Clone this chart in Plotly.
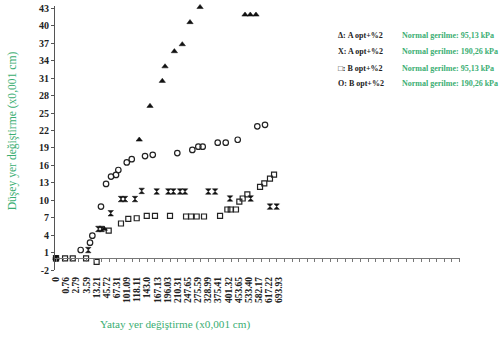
import plotly.graph_objects as go

# Category labels of the horizontal axis (horizontal displacement, x0.001 cm)
x_labels = ["0", "0.76", "2.79", "3.59", "13.21", "45.72", "67.31", "101.09",
            "118.11", "143.0", "167.13", "196.03", "210.31", "247.65", "275.59",
            "328.99", "375.41", "401.32", "453.65", "533.40", "582.17", "617.22",
            "693.93"]
y_ticks = list(range(-2, 44, 3))

# Series positions are given in label-index units along the category axis
# Δ: A opt+%2, normal stress 95,13 kPa
tri_x = [0, 4.76, 8.2, 9.26, 10.47, 10.74, 11.66, 12.44, 13.2, 14.19, 18.62, 19.14, 19.7]
tri_y = [0, 5.06, 20.4, 26.2, 30.5, 33.0, 35.6, 36.8, 40.6, 43.2, 41.9, 41.9, 41.9]

# X: A opt+%2, normal stress 190,26 kPa
hg_x = [0, 3.18, 4.17, 4.5, 5.39, 6.4, 6.8, 7.78, 8.44, 9.92, 11.06, 11.56,
        12.22, 12.71, 15.0, 15.67, 17.14, 19.18, 21.08, 21.74]
hg_y = [0, 1.44, 5.06, 5.06, 7.76, 10.2, 10.2, 10.2, 11.6, 11.5, 11.5, 11.5,
        11.5, 11.5, 11.5, 11.5, 10.3, 10.3, 8.9, 8.9]

# □: B opt+%2, normal stress 95,13 kPa
sq_x = [0, 0.89, 1.65, 2.96, 4.0, 5.19, 6.4, 7.12, 7.95, 8.94, 9.75, 11.23,
        12.81, 13.3, 13.86, 14.58, 16.16, 16.88, 17.21, 17.73, 18.06, 18.39,
        18.85, 20.1, 20.52, 21.08, 21.48]
sq_y = [0, 0, 0, 0, -0.6, 4.76, 6.0, 6.8, 6.9, 7.3, 7.3, 7.3, 7.2, 7.2, 7.2,
        7.2, 7.3, 8.4, 8.4, 8.4, 9.76, 10.3, 11.0, 12.3, 12.9, 13.7, 14.4]

# O: B opt+%2, normal stress 190,26 kPa
ci_x = [0, 2.43, 3.35, 3.58, 4.43, 4.93, 5.42, 5.91, 6.14, 6.97, 7.46, 8.77,
        9.53, 11.95, 13.43, 14.02, 14.45, 15.93, 16.72, 17.9, 19.83, 20.59]
ci_y = [0, 1.44, 2.7, 3.9, 8.9, 12.8, 14.06, 14.35, 15.2, 16.5, 17.05, 17.6,
        17.8, 18.1, 18.65, 19.2, 19.2, 19.9, 19.9, 20.4, 22.7, 22.96]

legend_left = ["Δ: A opt+%2", "X: A opt+%2", "□: B opt+%2", "O: B opt+%2"]
legend_right = ["Normal gerilme: 95,13 kPa", "Normal gerilme: 190,26 kPa",
                "Normal gerilme: 95,13 kPa", "Normal gerilme: 190,26 kPa"]

GREEN = "#3aae72"
SERIF = "Liberation Serif"

fig = go.Figure()
fig.add_trace(go.Scatter(x=sq_x, y=sq_y, mode="markers", cliponaxis=False,
                         marker=dict(symbol="square-open", size=5, color="#222",
                                     line=dict(width=1.2, color="#222"))))
fig.add_trace(go.Scatter(x=ci_x, y=ci_y, mode="markers", cliponaxis=False,
                         marker=dict(symbol="circle-open", size=5.5, color="#222",
                                     line=dict(width=1.2, color="#222"))))
fig.add_trace(go.Scatter(x=hg_x, y=hg_y, mode="markers", cliponaxis=False,
                         marker=dict(symbol="hourglass", size=5.5, color="#111",
                                     line=dict(width=0.5, color="#111"))))
fig.add_trace(go.Scatter(x=tri_x, y=tri_y, mode="markers", cliponaxis=False,
                         marker=dict(symbol="triangle-up", size=5.5, color="#111",
                                     line=dict(width=0.5, color="#111"))))

xr = [-0.1, 39.8]
ymin, ymax = -2, 43.4

annotations = []
row_y = [0.890, 0.828, 0.765, 0.705]
for yy, lt, rt in zip(row_y, legend_left, legend_right):
    annotations.append(dict(xref="paper", yref="paper", x=0.694, y=yy,
                            xanchor="left", yanchor="middle", showarrow=False,
                            text="<b>" + lt + "</b>",
                            font=dict(family=SERIF, size=8, color="#222")))
    annotations.append(dict(xref="paper", yref="paper", x=0.852, y=yy,
                            xanchor="left", yanchor="middle", showarrow=False,
                            text="<b>" + rt + "</b>",
                            font=dict(family=SERIF, size=8, color=GREEN)))
annotations.append(dict(xref="paper", yref="paper", x=-0.105, y=0.527,
                        xanchor="center", yanchor="middle", showarrow=False,
                        textangle=-90, text="Düşey yer değiştirme (x0,001 cm)",
                        font=dict(family=SERIF, size=11.6, color=GREEN)))
annotations.append(dict(xref="paper", yref="paper", x=0.296, y=-0.205,
                        xanchor="center", yanchor="middle", showarrow=False,
                        text="Yatay yer değiştirme (x0,001 cm)",
                        font=dict(family=SERIF, size=11.2, color=GREEN)))

fig.update_layout(
    width=501, height=338,
    margin=dict(l=55, r=41, t=6, b=68, autoexpand=False),
    paper_bgcolor="white", plot_bgcolor="white",
    showlegend=False,
    font=dict(family=SERIF, color="#111"),
    xaxis=dict(range=xr, tickmode="array", tickvals=list(range(len(x_labels))),
               ticktext=["<b>" + t + "</b>" for t in x_labels], tickangle=-90,
               ticks="", showline=False, showgrid=False, zeroline=False,
               automargin=False, ticklabelstandoff=4,
               tickfont=dict(family=SERIF, size=9.5, color="#222")),
    xaxis2=dict(range=xr, overlaying="x", anchor="free",
                position=2 / (ymax - ymin),
                showline=True, linecolor="#777", linewidth=1,
                ticks="outside", ticklen=3, tickcolor="#777",
                tickmode="linear", tick0=0, dtick=0.75,
                showticklabels=False, showgrid=False, zeroline=False),
    yaxis=dict(range=[ymin, ymax], tickmode="array", tickvals=y_ticks,
               ticktext=["<b>" + str(v) + "</b>" for v in y_ticks],
               showline=True, linecolor="#555", linewidth=1,
               ticks="outside", ticklen=3, tickcolor="#555",
               showgrid=False, zeroline=False, automargin=False,
               tickfont=dict(family=SERIF, size=10, color="#222")),
    annotations=annotations,
)
# Invisible trace to activate the secondary axis carrying the y=0 line
fig.add_trace(go.Scatter(x=[xr[0]], y=[0], xaxis="x2", mode="markers",
                         marker=dict(opacity=0), hoverinfo="skip"))

fig.write_html("out.html",
               config={"displayModeBar": False, "staticPlot": True},
               post_script="document.body.style.margin='0';"
                           "document.body.style.overflow='hidden';")
